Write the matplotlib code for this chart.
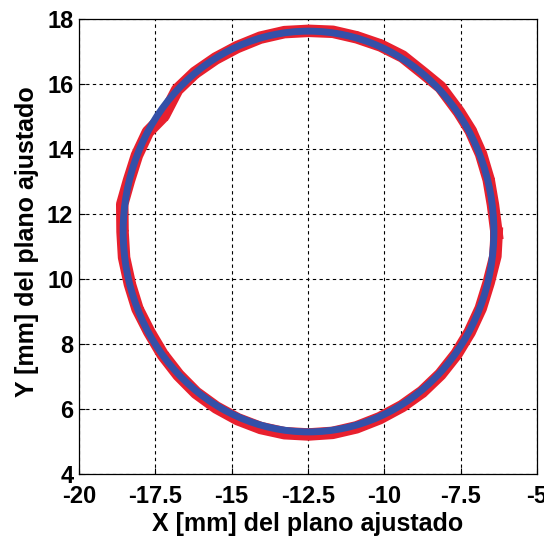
import matplotlib.pyplot as plt
from matplotlib.patches import Ellipse

plt.rcParams['font.family'] = ['Liberation Sans', 'DejaVu Sans']
plt.rcParams['font.weight'] = 'bold'

# puntos medidos proyectados sobre el plano ajustado [mm]
red_x = [-6.32, -6.44, -6.58, -6.83, -7.17, -7.55, -8.16, -8.72, -9.40, -10.12,
         -10.90, -11.68, -12.47, -13.27, -14.06, -14.82, -15.52, -16.20, -16.78,
         -17.22, -17.74, -18.10, -18.36, -18.58, -18.57, -18.52, -18.33, -18.08,
         -17.70, -17.26, -16.74, -16.16, -15.50, -14.80, -14.05, -13.27, -12.48,
         -11.69, -10.91, -10.15, -9.42, -8.76, -8.16, -7.63, -7.20, -6.84, -6.58,
         -6.36, -6.32]
red_y = [11.40, 12.28, 13.05, 13.84, 14.56, 15.13, 15.90, 16.33, 16.84, 17.18,
         17.43, 17.60, 17.63, 17.59, 17.42, 17.13, 16.78, 16.34, 15.82, 15.02,
         14.52, 13.80, 13.03, 12.30, 11.45, 10.66, 9.84, 9.08, 8.38, 7.68, 7.05,
         6.50, 6.05, 5.69, 5.42, 5.26, 5.22, 5.27, 5.44, 5.72, 6.09, 6.53, 7.07,
         7.70, 8.37, 9.10, 9.89, 10.70, 11.40]

# elipse ajustada: centro y semiejes [mm]
fit_cx = -12.48
fit_cy = 11.46
fit_a = 6.07
fit_b = 6.16

xticks = [-20, -17.5, -15, -12.5, -10, -7.5, -5]
xticklabels = ['-20', '-17.5', '-15', '-12.5', '-10', '-7.5', '-5']
yticks = [4, 6, 8, 10, 12, 14, 16, 18]

fig = plt.figure(figsize=(5.44, 5.37), dpi=100)
ax = fig.add_axes([0.145, 0.117, 0.842, 0.848])

ax.plot(red_x, red_y, color='#e8202e', lw=9, solid_joinstyle='round',
        marker='*', ms=8, zorder=3)
ax.add_patch(Ellipse((fit_cx, fit_cy), 2 * fit_a, 2 * fit_b, fill=False,
                     ec='#3450a8', lw=5, zorder=4))

ax.set_xlim(-20, -5)
ax.set_ylim(4, 18)
ax.set_xticks(xticks)
ax.set_xticklabels(xticklabels)
ax.set_yticks(yticks)
ax.grid(True, color='black', linestyle=(0, (3, 3)), lw=0.8)
ax.set_axisbelow(True)
ax.tick_params(direction='in', length=4, labelsize=17, width=0.8)
ax.tick_params(axis='x', pad=8)
ax.tick_params(axis='y', pad=4)
for s in ax.spines.values():
    s.set_linewidth(0.9)

ax.set_xlabel('X [mm] del plano ajustado', fontsize=18, fontweight='bold')
ax.set_ylabel('Y [mm] del plano ajustado', fontsize=18, fontweight='bold')
ax.xaxis.set_label_coords(0.5, -0.082)
ax.yaxis.set_label_coords(-0.088, 0.51)

fig.savefig('out.png', dpi=100)
